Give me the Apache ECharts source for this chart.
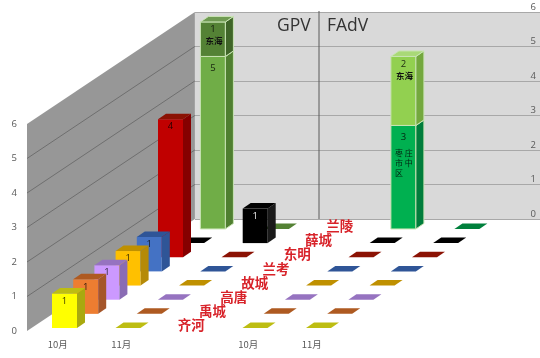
<!DOCTYPE html>
<html>
<head>
<meta charset="utf-8">
<style>
  html, body { margin: 0; padding: 0; background: #fff; }
  #main { width: 540px; height: 358px; }
</style>
<script src="https://cdn.jsdelivr.net/npm/echarts@6/dist/echarts.min.js"></script>
</head>
<body>
<div id="main"></div>
<script>
  // slot 2 is the empty gap between the GPV and FAdV groups
  var months = ['10月', '11月', '', '10月', '11月'];
  var cities = ['齐河', '禹城', '高唐', '故城', '兰考', '东明', '薛城', '兰陵'];
  var ticks = [0, 1, 2, 3, 4, 5, 6];

  var gpv10 = [1, 1, 1, 1, 1, 4, 0, 5];
  var gpv11 = [0, 0, 0, 0, 0, 0, 1, 0];
  var fadv10 = [0, 0, 0, 0, 0, 0, 0, 3];
  var fadv11 = [0, 0, 0, 0, 0, 0, 0, 0];
  // upper part of the stack on the 兰陵 row
  var gpv10Dh = [0, 0, 0, 0, 0, 0, 0, 1];
  var fadv10Dh = [0, 0, 0, 0, 0, 0, 0, 2];

  var faceColors = ['#ffff00', '#ed7d31', '#cc99ff', '#ffc000', '#4472c4', '#c00000', '#000000', '#70ad47'];
  var sideColors = ['#a9a90f', '#a5562a', '#8a6cb4', '#b58a08', '#2f5597', '#850000', '#1a1a1a', '#4f7f30'];
  var topColors = ['#bdbd12', '#ae5a21', '#9673c0', '#bf9000', '#2f5597', '#8b1204', '#000000', '#548235'];

  // oblique projection of the floor, in pixels
  var rowDx = 21.2, rowDy = -14.15;
  var barW = 25, barDx = 8, barDy = -5.5;
  var wallDepth = 7.92;

  var columns = [
    { slot: 0, values: gpv10, upper: gpv10Dh, upperText: '东海', face: '#548235', side: '#3f6528', top: '#6f9a52' },
    { slot: 1, values: gpv11 },
    { slot: 3, values: fadv10, upper: fadv10Dh, upperText: '东海', face: '#92d050', side: '#74a83e', top: '#a9d977', lowerFace: '#00b050', lowerSide: '#007d3c', lowerTop: '#00803c', lowerText: ['枣庄', '市中', '区'] },
    { slot: 4, values: fadv11, lowerTop: '#00803c' }
  ];

  // back to front so nearer bars cover the farther ones
  var cells = [];
  for (var r = cities.length - 1; r >= 0; r--) {
    columns.forEach(function (c) {
      var v = c.values[r];
      var last = r === cities.length - 1;
      cells.push({
        value: [c.slot, r, 0, v],
        face: last && c.lowerFace ? c.lowerFace : faceColors[r],
        side: last && c.lowerSide ? c.lowerSide : sideColors[r],
        top: last && c.lowerTop ? c.lowerTop : topColors[r],
        border: last,
        text: v > 0 ? String(v) : '',
        extra: last && c.lowerText ? c.lowerText : null
      });
      if (c.upper && c.upper[r] > 0) {
        cells.push({
          value: [c.slot, r, v, v + c.upper[r]],
          face: c.face, side: c.side, top: c.top,
          border: true,
          text: String(c.upper[r]),
          tag: c.upperText
        });
      }
    });
  }

  function renderBar(params, api) {
    var cell = cells[params.dataIndex];
    var row = api.value(1);
    var b = api.coord([api.value(0), api.value(2)]);
    var t = api.coord([api.value(0), api.value(3)]);
    var x0 = b[0] + 6.75 - barW / 2 + row * rowDx;
    var x1 = x0 + barW;
    var yb = b[1] - 3 + row * rowDy;
    var yt = t[1] - 3 + row * rowDy;
    var kids = [];
    var edge = cell.border ? '#c9e4b4' : null;
    if (yb - yt > 0) {
      kids.push({
        type: 'polygon',
        shape: { points: [[x0, yb], [x1, yb], [x1, yt], [x0, yt]] },
        style: { fill: cell.face, stroke: edge, lineWidth: 1 }
      });
      kids.push({
        type: 'polygon',
        shape: { points: [[x1, yb], [x1 + barDx, yb + barDy], [x1 + barDx, yt + barDy], [x1, yt]] },
        style: { fill: cell.side, stroke: edge, lineWidth: 1 }
      });
    }
    kids.push({
      type: 'polygon',
      shape: { points: [[x0, yt], [x1, yt], [x1 + barDx, yt + barDy], [x0 + barDx, yt + barDy]] },
      style: { fill: cell.top, stroke: yb - yt > 0 ? edge : null, lineWidth: 1 }
    });
    var cx = x0 + barW / 2;
    var ink = cell.face === '#000000' ? '#f2f2f2' : 'rgba(0,0,0,0.8)';
    if (cell.text) {
      // tall lower segments carry their number further down the face
      var dy = api.value(3) - api.value(2) >= 3 && api.value(2) === 0 && cities.length - 1 === row ? 12 : 7.5;
      kids.push({
        type: 'text',
        style: { text: cell.text, x: cx, y: yt + dy, fill: ink, font: '9.5px "Open Sans"', align: 'center', verticalAlign: 'middle' }
      });
    }
    if (cell.tag) {
      kids.push({
        type: 'text',
        style: { text: cell.tag, x: cx + 1, y: yt + 19, fill: '#111', font: 'bold 8.5px "Noto Sans CJK SC"', align: 'center', verticalAlign: 'middle' }
      });
    }
    if (cell.extra) {
      cell.extra.forEach(function (s, i) {
        kids.push({
          type: 'text',
          style: { text: s.split('').join(' '), x: x0 + 4, y: yt + 28 + i * 10, fill: 'rgba(0,0,0,0.8)', font: '8px "Noto Sans CJK SC"', align: 'left', verticalAlign: 'middle' }
        });
      });
    }
    return { type: 'group', children: kids };
  }

  function renderLeftWall(params, api) {
    var kids = [];
    var x0 = api.coord([0, 0])[0] - 30.75;
    var y0 = api.coord([0, 0])[1];
    var y6 = api.coord([0, ticks[ticks.length - 1]])[1];
    var ex = wallDepth * rowDx, ey = wallDepth * rowDy;
    kids.push({
      type: 'polygon',
      shape: { points: [[x0, y0], [x0 + ex, y0 + ey], [x0 + ex, y6 + ey], [x0, y6]] },
      style: { fill: '#979797' }
    });
    ticks.slice(1, -1).forEach(function (v) {
      var y = api.coord([0, v])[1];
      kids.push({
        type: 'line',
        shape: { x1: x0, y1: y, x2: x0 + ex, y2: y + ey },
        style: { stroke: '#6f6f6f', lineWidth: 1 }
      });
    });
    return { type: 'group', children: kids };
  }

  function renderCity(params, api) {
    var row = api.value(1);
    var p = api.coord([2, 0]);
    return {
      type: 'text',
      style: {
        text: cities[row],
        x: p[0] + 6.5 + row * rowDx,
        y: p[1] - 6 + row * rowDy,
        fill: '#d8232a',
        font: 'bold 13.5px "Noto Sans CJK SC"',
        align: 'center',
        verticalAlign: 'middle'
      }
    };
  }

  var chart = echarts.init(document.getElementById('main'), null, { renderer: 'canvas' });
  chart.setOption({
    animation: false,
    backgroundColor: '#ffffff',
    title: [
      { text: 'GPV', left: 272, top: 12, textStyle: { color: '#333333', fontSize: 17.5, fontWeight: 'normal', fontFamily: 'Open Sans' } },
      { text: 'FAdV', left: 322, top: 12, textStyle: { color: '#333333', fontSize: 17.5, fontWeight: 'normal', fontFamily: 'Open Sans' } }
    ],
    grid: [
      { left: 26, top: 124, width: 317.5, height: 207 },
      { left: 195, top: 12, width: 345, height: 207, show: true, backgroundColor: '#d9d9d9', borderWidth: 0 }
    ],
    xAxis: [
      {
        type: 'category', gridIndex: 0, data: months,
        axisLine: { show: false }, axisTick: { show: false },
        axisLabel: { color: '#595959', fontSize: 9.5, margin: 9, fontFamily: 'Noto Sans CJK SC', interval: 0 }
      },
      { type: 'value', gridIndex: 1, min: 0, max: 1, show: false }
    ],
    yAxis: [
      {
        type: 'value', gridIndex: 0, min: 0, max: 6, interval: 1,
        axisLine: { show: false }, axisTick: { show: false }, splitLine: { show: false },
        axisLabel: { color: '#595959', fontSize: 9.5, margin: 9, fontFamily: 'Open Sans' }
      },
      {
        type: 'value', gridIndex: 1, min: 0, max: 6, interval: 1, position: 'right',
        axisLine: { show: false }, axisTick: { show: false },
        splitLine: { show: true, lineStyle: { color: '#a8a8a8', width: 1 } },
        axisLabel: { inside: true, color: '#595959', fontSize: 9.5, margin: 4, verticalAlign: 'bottom', fontFamily: 'Open Sans' }
      }
    ],
    graphic: [
      { type: 'line', z: 2, shape: { x1: 319, y1: 11, x2: 319, y2: 219 }, style: { stroke: '#5a5a5a', lineWidth: 1 } }
    ],
    series: [
      {
        type: 'custom', name: 'wall', xAxisIndex: 0, yAxisIndex: 0, z: 1, silent: true,
        renderItem: renderLeftWall, data: [[0, 0]]
      },
      {
        type: 'custom', name: 'bars', xAxisIndex: 0, yAxisIndex: 0, z: 3, silent: true,
        renderItem: renderBar,
        encode: { x: 0, y: [2, 3] },
        data: cells.map(function (c) { return c.value; })
      },
      {
        type: 'custom', name: 'cities', xAxisIndex: 0, yAxisIndex: 0, z: 4, silent: true,
        renderItem: renderCity,
        data: cities.map(function (c, i) { return [2, i]; })
      }
    ]
  });
</script>
</body>
</html>
